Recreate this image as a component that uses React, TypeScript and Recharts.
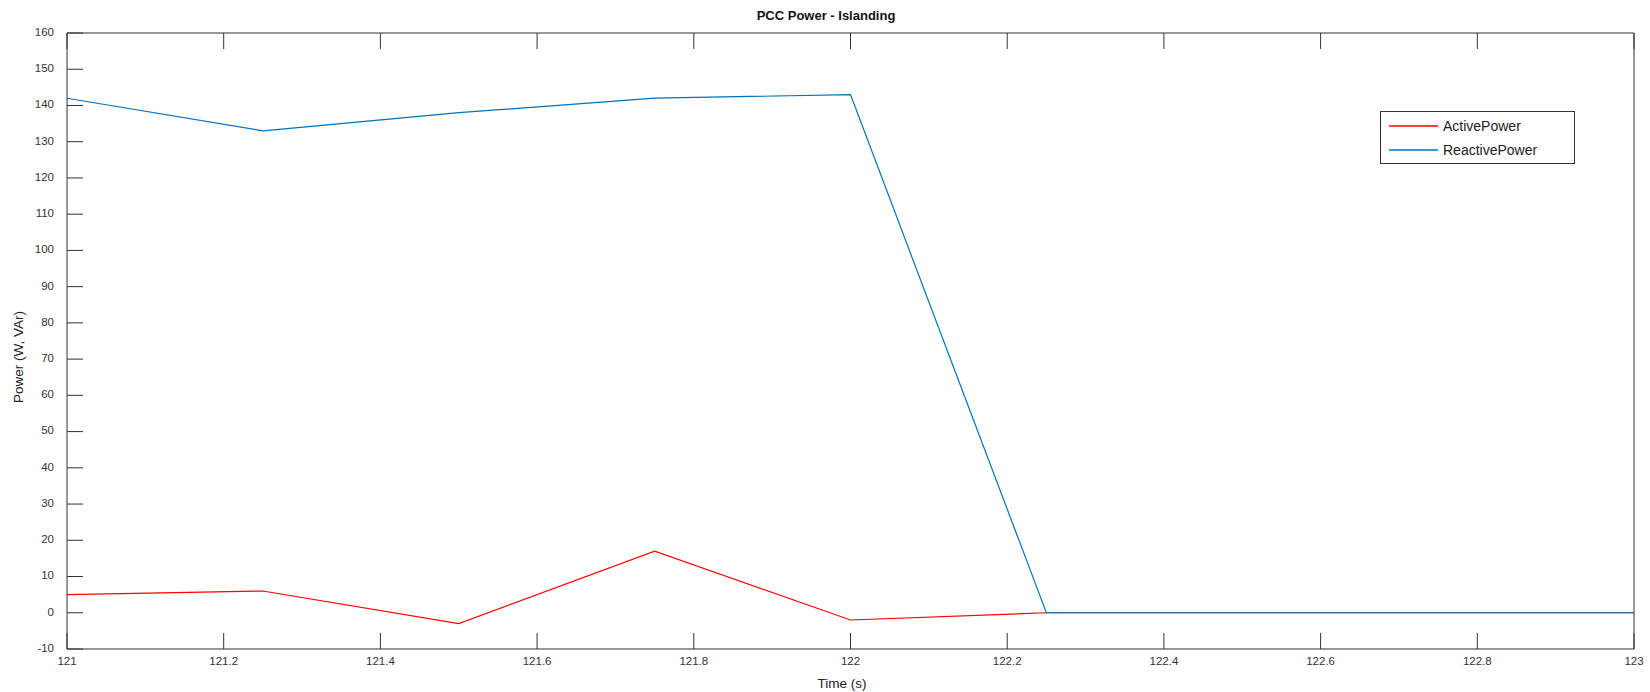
import { LineChart, Line, XAxis, YAxis } from 'recharts'

const times = [121, 121.25, 121.5, 121.75, 122, 122.25, 122.5, 122.75, 123]
const activePower = [5, 6, -3, 17, -2, 0, 0, 0, 0]
const reactivePower = [142, 133, 138, 142, 143, 0, 0, 0, 0]
const xTicks = [121, 121.2, 121.4, 121.6, 121.8, 122, 122.2, 122.4, 122.6, 122.8, 123]
const yTicks = [-10, 0, 10, 20, 30, 40, 50, 60, 70, 80, 90, 100, 110, 120, 130, 140, 150, 160]

const series = [
  { key: 'active', name: 'ActivePower', color: '#ff0000' },
  { key: 'reactive', name: 'ReactivePower', color: '#0072bd' },
]

const data = times.map((t, i) => ({ t, active: activePower[i], reactive: reactivePower[i] }))

const FONT = 'Liberation Sans, Arial, Helvetica, sans-serif'
const AXIS = '#333'
const TICK_LEN = 16

// MATLAB-style inward ticks
function BottomTick({ x, y, payload }: any) {
  return (
    <g>
      <line x1={x} y1={y} x2={x} y2={y - TICK_LEN} stroke={AXIS} />
      <text x={x} y={y + 8} dy="0.71em" textAnchor="middle" fontSize={11.5} fill={AXIS} fontFamily={FONT}>
        {payload.value}
      </text>
    </g>
  )
}
function TopTick({ x, y }: any) {
  return <line x1={x} y1={y} x2={x} y2={y + TICK_LEN} stroke={AXIS} />
}
function LeftTick({ x, y, payload }: any) {
  return (
    <g>
      <line x1={x} y1={y} x2={x + TICK_LEN} y2={y} stroke={AXIS} />
      <text x={x - 13} y={y} dy="0.25em" textAnchor="end" fontSize={11.5} fill={AXIS} fontFamily={FONT}>
        {payload.value}
      </text>
    </g>
  )
}
function RightTick({ x, y }: any) {
  return <line x1={x} y1={y} x2={x - TICK_LEN} y2={y} stroke={AXIS} />
}

export default function App() {
  return (
    <div style={{ position: 'absolute', left: 0, top: 0, width: 1650, height: 692, background: '#fff' }}>
      <LineChart width={1650} height={692} data={data} margin={{ top: 0, right: 0, bottom: 0, left: 0 }}>
        <XAxis
          xAxisId="b" dataKey="t" type="number" domain={[121, 123]} ticks={xTicks} interval={0}
          height={43} tickSize={0} tickMargin={0} tickLine={false} tick={<BottomTick />}
          axisLine={{ stroke: AXIS }}
        />
        <XAxis
          xAxisId="t" orientation="top" dataKey="t" type="number" domain={[121, 123]} ticks={xTicks} interval={0}
          height={33} tickSize={0} tickMargin={0} tickLine={false} tick={<TopTick />}
          axisLine={{ stroke: AXIS }}
        />
        <YAxis
          yAxisId="l" type="number" domain={[-10, 160]} ticks={yTicks} interval={0}
          width={67} tickSize={0} tickMargin={0} tickLine={false} tick={<LeftTick />}
          axisLine={{ stroke: AXIS }}
        />
        <YAxis
          yAxisId="r" orientation="right" type="number" domain={[-10, 160]} ticks={yTicks} interval={0}
          width={16} tickSize={0} tickMargin={0} tickLine={false} tick={<RightTick />}
          axisLine={{ stroke: AXIS }}
        />
        {series.map((s) => (
          <Line
            key={s.key} xAxisId="b" yAxisId="l" type="linear" dataKey={s.key} name={s.name}
            stroke={s.color} strokeWidth={1.2} dot={false} isAnimationActive={false}
          />
        ))}
        {/* legend box, drawn by hand so it doesn't push the plot area */}
        <g>
          <rect x={1380.5} y={111.5} width={194} height={52} fill="#fff" stroke={AXIS} />
          {series.map((s, i) => (
            <g key={s.key}>
              <line x1={1389} x2={1438} y1={126 + i * 24} y2={126 + i * 24} stroke={s.color} strokeWidth={1.3} />
              <text x={1443} y={126 + i * 24} dy="0.35em" fontSize={14} fill="#222" fontFamily={FONT}>
                {s.name}
              </text>
            </g>
          ))}
        </g>
        <text x={826} y={15} dy="0.35em" textAnchor="middle" fontSize={13} fontWeight="bold" fill="#111" fontFamily={FONT}>
          PCC Power - Islanding
        </text>
        <text x={842} y={683} dy="0.35em" textAnchor="middle" fontSize={13.5} fill="#222" fontFamily={FONT}>
          Time (s)
        </text>
        <text
          x={18} y={357} dy="0.35em" textAnchor="middle" fontSize={13.5} fill="#222" fontFamily={FONT}
          transform="rotate(-90 18 357)"
        >
          Power (W, VAr)
        </text>
      </LineChart>
    </div>
  )
}
